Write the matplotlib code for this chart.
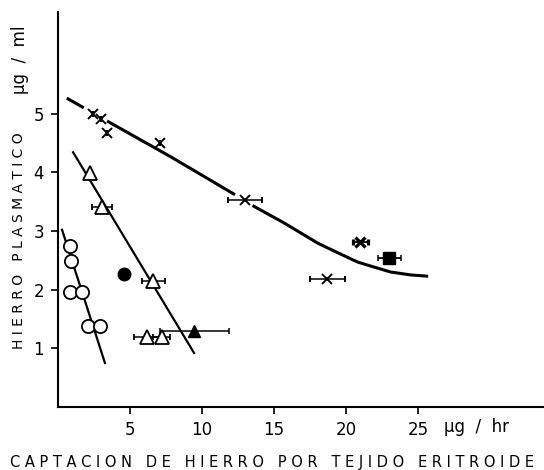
import matplotlib
matplotlib.use("Agg")
import matplotlib.pyplot as plt
import numpy as np

# Curva (x) con huecos en los marcadores
curva_x = [0.7, 1.7, np.nan, 3.5, 7.85, 12.2, np.nan, 13.6, 15.6, 18.05, 19.5, 20.8, 22.0, 23.1, 24.5, 25.6]
curva_y = [5.25, 5.11, np.nan, 4.86, 4.26, 3.63, np.nan, 3.42, 3.15, 2.79, 2.62, 2.47, 2.38, 2.30, 2.25, 2.23]

# Cruces
cruz_x = [2.4, 3.0, 3.4, 7.1, 13.0, 18.7]
cruz_y = [5.0, 4.9, 4.67, 4.5, 3.52, 2.18]
cruz_err = [0, 0, 0, 0, 1.2, 1.2]

# Asterisco y cuadrado lleno
ast_x, ast_y, ast_err = [21.0], [2.81], [0.5]
cuad_x, cuad_y, cuad_err = [23.0], [2.54], [0.8]

# Triangulos abiertos
tri_x = [2.2, 3.05, 6.6, 6.2, 7.2]
tri_y = [3.99, 3.4, 2.15, 1.2, 1.2]
tri_err = [0, 0.7, 0.8, 0.9, 0.6]
tri_linea_x = [1.05, 9.45]
tri_linea_y = [4.34, 0.92]

# Triangulo lleno
trill_x, trill_y, trill_err = [9.45], [1.3], [2.4]

# Circulos abiertos
circ_x = [0.83, 0.9, 0.85, 1.67, 2.1, 2.95]
circ_y = [2.74, 2.49, 1.96, 1.96, 1.38, 1.38]
circ_linea_x = [0.28, 3.26]
circ_linea_y = [3.02, 0.75]

# Circulo lleno
circll_x, circll_y = [4.6], [2.27]

xticks = [5, 10, 15, 20, 25]
yticks = [1, 2, 3, 4, 5]


def espaciar(texto):
    return "   ".join(" ".join(palabra) for palabra in texto.split())


fig = plt.figure(figsize=(5.44, 4.7), dpi=100)
ax = fig.add_axes([58 / 544, 1 - 407 / 470, 1 - 58 / 544, 395 / 470])
ax.set_xlim(0, 33.75)
ax.set_ylim(0, 6.73)

ax.plot(curva_x, curva_y, color="black", lw=2.2, zorder=2)
ax.plot(tri_linea_x, tri_linea_y, color="black", lw=1.6, zorder=2)
ax.plot(circ_linea_x, circ_linea_y, color="black", lw=1.6, zorder=2)

ax.errorbar(cruz_x, cruz_y, xerr=cruz_err, fmt="x", color="black", ms=7, mew=1.4,
            elinewidth=1.1, capsize=2.5, capthick=1.1, zorder=3)
ax.errorbar(ast_x, ast_y, xerr=ast_err, fmt="x", color="black", ms=7, mew=2.3,
            elinewidth=1.3, capsize=2.5, capthick=1.1, zorder=3)
ax.errorbar(cuad_x, cuad_y, xerr=cuad_err, fmt="s", color="black", ms=8,
            elinewidth=1.3, capsize=2.5, capthick=1.1, zorder=3)
ax.errorbar(tri_x, tri_y, xerr=tri_err, fmt="^", color="black", mfc="white", mec="black",
            ms=10, mew=1.3, elinewidth=1.1, capsize=2.5, capthick=1.1, zorder=4)
ax.errorbar(trill_x, trill_y, xerr=trill_err, fmt="^", color="black", ms=9,
            elinewidth=1.1, capsize=2.5, capthick=1.1, zorder=4)
ax.plot(circ_x, circ_y, "o", mfc="white", mec="black", ms=9.5, mew=1.3, zorder=4)
ax.plot(circll_x, circll_y, "o", color="black", ms=9, zorder=4)

for lado in ["top", "right"]:
    ax.spines[lado].set_visible(False)
ax.spines["left"].set_linewidth(1.5)
ax.spines["bottom"].set_linewidth(1.5)

ax.set_xticks(xticks)
ax.set_yticks(yticks)
ax.tick_params(length=5, width=1.2, labelsize=12, direction="out", pad=5)

fig.text(477 / 544, 1 - 427 / 470, "μg  /  hr", fontsize=12, ha="center", va="center")
fig.text(272 / 544, 1 - 463 / 470, espaciar("CAPTACION DE HIERRO POR TEJIDO ERITROIDE"),
         fontsize=10.5, ha="center", va="center")
fig.text(19 / 544, 1 - 241 / 470, espaciar("HIERRO PLASMATICO"), fontsize=10,
         rotation=90, ha="center", va="center")
fig.text(20 / 544, 1 - 60 / 470, "μg  /  ml", fontsize=12, rotation=90, ha="center", va="center")

fig.savefig("out.png", dpi=100)
